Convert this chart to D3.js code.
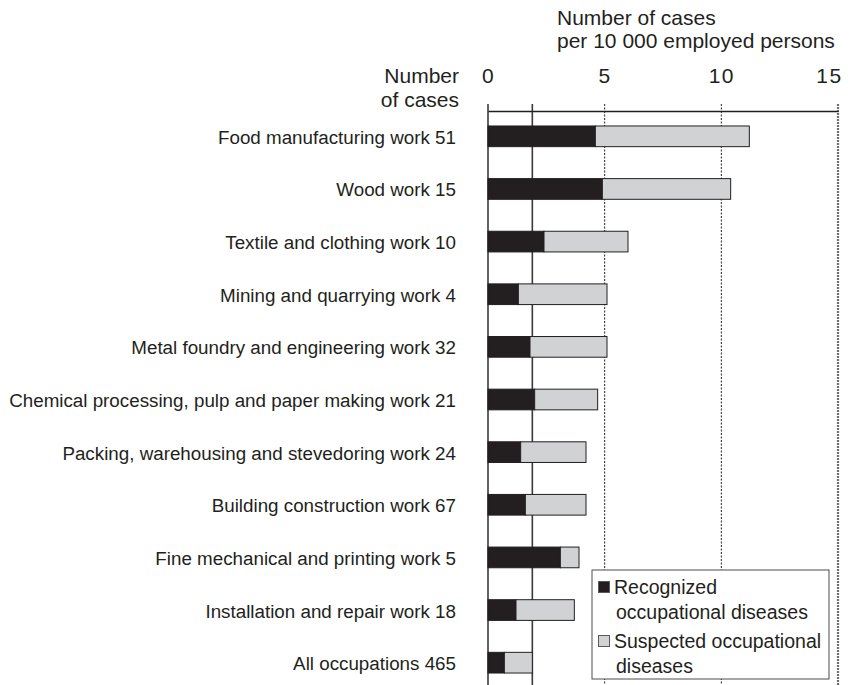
<!DOCTYPE html>
<html>
<head>
<meta charset="utf-8">
<script src="https://cdn.jsdelivr.net/npm/d3@7"></script>
<style>
  body { margin: 0; background: #fff; }
  text { font-family: "Liberation Sans", Arial, sans-serif; fill: #231f20; }
</style>
</head>
<body>
<div id="chart"></div>
<script>
// ========================================
// Data
// ========================================
const categories = [
  'Food manufacturing work',
  'Wood work',
  'Textile and clothing work',
  'Mining and quarrying work',
  'Metal foundry and engineering work',
  'Chemical processing, pulp and paper making work',
  'Packing, warehousing and stevedoring work',
  'Building construction work',
  'Fine mechanical and printing work',
  'Installation and repair work',
  'All occupations'
];
const cases      = [51, 15, 10, 4, 32, 21, 24, 67, 5, 18, 465];
const recognized = [4.6, 4.9, 2.4, 1.3, 1.8, 2.0, 1.4, 1.6, 3.1, 1.2, 0.7];
const suspected  = [6.6, 5.5, 3.6, 3.8, 3.3, 2.7, 2.8, 2.6, 0.8, 2.5, 1.2];
const xTicks = [0, 5, 10, 15];
const seriesNames = [
  ['Recognized', 'occupational diseases'],
  ['Suspected occupational', 'diseases']
];

// ========================================
// Dimensions
// ========================================
const
  width = 852,
  height = 685,
  axisY = 111,          // y of the top axis line
  colors = ['#231f20', '#d1d2d4'];

const rows = categories.map((c, i) => ({
  label: c + ' ' + cases[i],
  recognized: recognized[i],
  suspected: suspected[i]
}));

// reference line = total of "All occupations"
const allRow = rows[rows.length - 1];
const avg = allRow.recognized + allRow.suspected;

const svg = d3.select('#chart')
  .append('svg')
    .attr('width', width)
    .attr('height', height);

const x = d3.scaleLinear().domain([0, 15]).range([488, 838]);
const y = d3.scaleBand()
  .domain(rows.map(d => d.label))
  .range([110, 689])
  .paddingInner(0.607)
  .paddingOuter(0.3035);

// =====================
// Grid lines (behind bars)
// =====================
const gridStyle = v => {
  if (v === 15) return { stroke: '#6d6e70', width: 2.2, dash: '2,1' };
  if (v === 5 || v === 10) return { stroke: '#231f20', width: 1, dash: '2,1.5' };
  return { stroke: '#3a3a3a', width: 1.6, dash: null };
};
const gridVals = [0, avg, 5, 10, 15];

svg.append('g')
  .selectAll('line')
  .data(gridVals)
  .enter()
  .append('line')
    .attr('x1', d => x(d))
    .attr('x2', d => x(d))
    .attr('y1', axisY - 7)
    .attr('y2', height)
    .attr('stroke', d => gridStyle(d).stroke)
    .attr('stroke-width', d => gridStyle(d).width)
    .attr('stroke-dasharray', d => gridStyle(d).dash);

// =====================
// Top axis
// =====================
const axis = svg.append('g')
  .attr('transform', 'translate(0,' + axisY + ')')
  .call(d3.axisTop(x).tickValues(xTicks).tickSize(0).tickPadding(28).tickFormat(d3.format('d')));
axis.select('.domain').attr('stroke', '#231f20').attr('stroke-width', 1.6);
axis.selectAll('text')
  .style('font-size', '21px')
  .style('letter-spacing', '1.5px')
  .attr('fill', '#231f20')
  .attr('dx', d => d === 15 ? -9 : 0);

// =====================
// Stacked bars
// =====================
const stacked = d3.stack().keys(['recognized', 'suspected'])(rows);

svg.append('g')
  .selectAll('g')
  .data(stacked)
  .enter()
  .append('g')
    .attr('fill', (d, i) => colors[i])
  .selectAll('rect')
  .data(d => d)
  .enter()
  .append('rect')
    .attr('x', d => x(d[0]))
    .attr('y', d => y(d.data.label))
    .attr('width', d => x(d[1]) - x(d[0]))
    .attr('height', y.bandwidth())
    .attr('stroke', '#231f20')
    .attr('stroke-width', 1);

// =====================
// Category labels
// =====================
svg.append('g')
  .selectAll('text')
  .data(rows)
  .enter()
  .append('text')
    .attr('x', 456)
    .attr('y', d => y(d.label) + y.bandwidth() / 2)
    .attr('dy', '0.4em')
    .attr('text-anchor', 'end')
    .style('font-size', '18.8px')
    .text(d => d.label);

// =====================
// Titles
// =====================
svg.append('text')
  .attr('x', 557).attr('y', 25)
  .style('font-size', '21px')
  .text('Number of cases');
svg.append('text')
  .attr('x', 557).attr('y', 47.5)
  .style('font-size', '21px')
  .text('per 10 000 employed persons');

svg.append('text')
  .attr('x', 459).attr('y', 83)
  .attr('text-anchor', 'end')
  .style('font-size', '21px')
  .text('Number');
svg.append('text')
  .attr('x', 459).attr('y', 106.5)
  .attr('text-anchor', 'end')
  .style('font-size', '21px')
  .text('of cases');

// =====================
// Legend
// =====================
const legend = svg.append('g').attr('transform', 'translate(592,570)');
legend.append('rect')
  .attr('width', 237)
  .attr('height', 109)
  .attr('fill', '#fff')
  .attr('stroke', '#4d4d4f')
  .attr('stroke-width', 1);

const legendItems = legend.selectAll('g')
  .data(seriesNames)
  .enter()
  .append('g')
    .attr('transform', (d, i) => 'translate(0,' + i * 54 + ')');

legendItems.append('rect')
  .attr('x', 6.5)
  .attr('y', 11.5)
  .attr('width', 11)
  .attr('height', 11)
  .attr('fill', (d, i) => colors[i])
  .attr('stroke', '#58595b');

legendItems.selectAll('text')
  .data(d => d)
  .enter()
  .append('text')
    .attr('x', (d, i) => i === 0 ? 22 : 24)
    .attr('y', (d, i) => 24 + i * 25)
    .style('font-size', '19.5px')
    .text(d => d);
</script>
</body>
</html>
